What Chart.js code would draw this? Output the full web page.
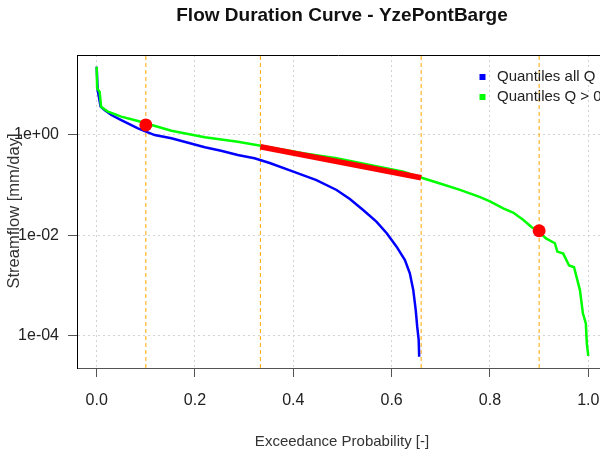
<!DOCTYPE html>
<html>
<head>
<meta charset="utf-8">
<script src="https://cdn.jsdelivr.net/npm/chart.js@4.4.1/dist/chart.umd.min.js"></script>
<style>
  body { margin: 0; background: #fff; }
  canvas { display: block; }
</style>
</head>
<body>
<canvas id="fdc" width="600" height="452"></canvas>
<script>
// Flow duration curve

// Quantiles Q > 0 (green)
const greenP = [0, 0.001, 0.006, 0.009, 0.023, 0.05, 0.084, 0.152, 0.22, 0.287, 0.328, 0.42, 0.488, 0.556, 0.624, 0.661, 0.70, 0.739, 0.78, 0.80, 0.827, 0.847, 0.868, 0.885, 0.9, 0.914, 0.932, 0.937, 0.949, 0.961, 0.971, 0.983, 0.989, 0.995, 0.997, 1.0];
const greenQ = [22.1, 8.2, 7.05, 3.55, 2.82, 2.25, 1.85, 1.18, 0.875, 0.716, 0.608, 0.421, 0.335, 0.247, 0.182, 0.138, 0.105, 0.079, 0.057, 0.047, 0.034, 0.028, 0.020, 0.0143, 0.0115, 0.0086, 0.0069, 0.0047, 0.0043, 0.0025, 0.0023, 0.00081, 0.00028, 0.000177, 0.000071, 0.00004];

// Quantiles all Q (blue)
const blueP = [0, 0.002, 0.008, 0.016, 0.03, 0.05, 0.084, 0.118, 0.152, 0.186, 0.22, 0.253, 0.287, 0.321, 0.352, 0.4, 0.447, 0.488, 0.515, 0.542, 0.569, 0.59, 0.61, 0.627, 0.637, 0.644, 0.649, 0.652, 0.655, 0.656];
const blueQ = [22.1, 7.6, 3.55, 3.05, 2.43, 1.93, 1.32, 0.97, 0.837, 0.684, 0.554, 0.474, 0.39, 0.335, 0.27, 0.182, 0.124, 0.0787, 0.052, 0.0315, 0.0185, 0.0109, 0.0059, 0.0032, 0.00174, 0.00081, 0.000325, 0.000152, 0.000083, 0.0000385];

// red markers and mid-segment slope
const dotP = [0.1, 0.9];
const dotQ = [1.54, 0.0122];
const slopeP = [0.333, 0.66];
const slopeQ = [0.57, 0.138];

// orange dashed lines
const vlineP = [0.1, 0.333, 0.66, 0.9];

// axes
const xTicks = [0, 0.2, 0.4, 0.6, 0.8, 1.0];
const yTicks = [1e-4, 1e-2, 1];
const xMin = -0.04, xMax = 1.0238;
const yMin = Math.pow(10, -4.639), yMax = Math.pow(10, 1.577);

const legendNames = ['Quantiles all Q', 'Quantiles Q > 0'];
const legendColors = ['#0000ff', '#00ff00'];

const pts = (xs, ys) => xs.map((x, i) => ({ x: x, y: ys[i] }));

function rExp(v) {
  const e = Math.round(Math.log10(v));
  return '1e' + (e < 0 ? '-' : '+') + String(Math.abs(e)).padStart(2, '0');
}

const datasets = [
  { label: 'dots', data: pts(dotP, dotQ), showLine: false, pointRadius: 6.5,
    pointBackgroundColor: '#ff0000', pointBorderColor: '#ff0000', pointBorderWidth: 0 },
  { label: 'slope', data: pts(slopeP, slopeQ), borderColor: '#ff0000', borderWidth: 5.5,
    pointRadius: 0, borderCapStyle: 'butt' },
  { label: legendNames[1], data: pts(greenP, greenQ), borderColor: legendColors[1], borderWidth: 2.5, pointRadius: 0 },
  { label: legendNames[0], data: pts(blueP, blueQ), borderColor: legendColors[0], borderWidth: 2.5, pointRadius: 0 }
];
vlineP.forEach(p => {
  datasets.push({ label: 'q' + p, data: [{ x: p, y: yMin }, { x: p, y: yMax }],
    borderColor: '#ffa500', borderWidth: 1, borderDash: [4, 3], pointRadius: 0 });
});

// title, axis titles, legend, top border
const decor = {
  id: 'decor',
  afterDraw(chart) {
    const ctx = chart.ctx;
    const a = chart.chartArea;
    ctx.save();
    ctx.strokeStyle = '#000';
    ctx.lineWidth = 1;
    ctx.beginPath();
    ctx.moveTo(a.left, a.top + 0.5);
    ctx.lineTo(a.right, a.top + 0.5);
    ctx.stroke();

    ctx.fillStyle = '#111';
    ctx.textAlign = 'center';
    ctx.textBaseline = 'middle';
    ctx.font = 'bold 19px "Liberation Sans", Arial, sans-serif';
    ctx.fillText('Flow Duration Curve - YzePontBarge', 342, 16);

    ctx.fillStyle = '#333';
    ctx.font = '15px "Liberation Sans", Arial, sans-serif';
    ctx.fillText('Exceedance Probability [-]', 342, 442);
    ctx.save();
    ctx.translate(14, 211);
    ctx.rotate(-Math.PI / 2);
    ctx.font = '16.5px "Liberation Sans", Arial, sans-serif';
    ctx.fillText('Streamflow [mm/day]', 0, 0);
    ctx.restore();

    // legend
    ctx.textAlign = 'left';
    ctx.font = '15px "Liberation Sans", Arial, sans-serif';
    legendNames.forEach((name, i) => {
      const y = 77 + i * 20;
      ctx.fillStyle = legendColors[i];
      ctx.fillRect(479.5, y - 3, 6, 6);
      ctx.fillStyle = '#222';
      ctx.fillText(name, 497, y);
    });
    ctx.restore();
  }
};

new Chart(document.getElementById('fdc'), {
  type: 'line',
  data: { datasets: datasets },
  options: {
    responsive: false,
    animation: false,
    devicePixelRatio: 1,
    layout: { autoPadding: false, padding: { top: 55, left: 0, right: 0, bottom: 0 } },
    plugins: { legend: { display: false }, title: { display: false }, tooltip: { enabled: false } },
    elements: { line: { tension: 0 } },
    scales: {
      x: {
        type: 'linear', min: xMin, max: xMax,
        afterBuildTicks: s => { s.ticks = xTicks.map(v => ({ value: v })); },
        afterFit: s => { s.height = 84; s.paddingLeft = 0; s.paddingRight = 0; },
        ticks: { callback: v => v.toFixed(1), maxRotation: 0, padding: 14, color: '#222',
          font: { family: '"Liberation Sans", Arial, sans-serif', size: 16 } },
        grid: { color: '#d3d3d3', tickLength: 9, tickColor: '#555', tickBorderDash: [], tickWidth: 1 },
        border: { color: '#555', dash: [2, 3], display: true }
      },
      y: {
        type: 'logarithmic', min: yMin, max: yMax,
        afterBuildTicks: s => { s.ticks = yTicks.map(v => ({ value: v })); },
        afterFit: s => { s.width = 77; s.paddingTop = 0; s.paddingBottom = 0; },
        ticks: { callback: v => rExp(v), padding: 9, color: '#222',
          font: { family: '"Liberation Sans", Arial, sans-serif', size: 16 } },
        grid: { color: '#d3d3d3', tickLength: 9, tickColor: '#555', tickBorderDash: [], tickWidth: 1 },
        border: { color: '#000', dash: [2, 3] }
      }
    }
  },
  plugins: [decor]
});
</script>
</body>
</html>
